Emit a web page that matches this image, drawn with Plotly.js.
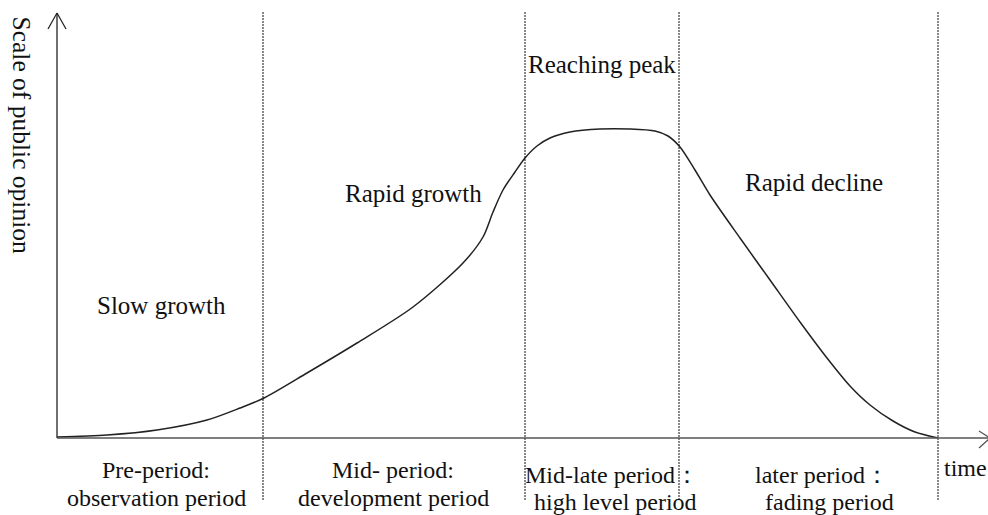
<!DOCTYPE html>
<html>
<head>
<meta charset="utf-8">
<script src="https://cdn.plot.ly/plotly-3.0.1.min.js"></script>
<style>html,body{margin:0;padding:0;background:#fff;}#chart{width:988px;height:515px;}</style>
</head>
<body>
<div id="chart"></div>
<script>
// Curve of public-opinion scale over time (arbitrary units)
const timeVals  = [0, 50, 100, 150, 183, 207, 250, 300, 356, 406, 426, 436, 446, 458, 468, 480, 493, 513, 543, 573, 598, 611, 623, 638, 653, 683, 713, 743, 770, 793, 813, 836, 858, 881];
const scaleVals = [1, 3, 8, 18, 30, 40, 65, 95, 131, 175, 201, 226, 248, 266, 280, 292, 300, 306, 309, 309, 307, 302, 291, 268, 243, 200, 158, 116, 80, 52, 33, 17, 6, 0];
// Stage boundaries (time)
const boundaries = [206, 468, 622, 881];
// Stage labels
const stageNames = ["Slow growth", "Rapid growth", "Reaching peak", "Rapid decline"];
const periodLabels = [
  ["Pre-period:", "observation period"],
  ["Mid- period:", "development period"],
  ["Mid-late period\uFF1A", "high level period"],
  ["later period\uFF1A", "fading period"]
];
const xTitle = "time";
const yTitle = "Scale of public opinion";

const L = 57, R = 985, T = 14, B = 438;
const W = R - L, H = B - T;
const px = x => (x - L) / W;
const py = y => (B - y) / H;

const font = {family: "Liberation Serif, serif", color: "#111"};
const ann = (text, x, y, size, extra) => Object.assign({
  text: text, xref: "paper", yref: "paper", x: px(x), y: py(y),
  xanchor: "center", yanchor: "middle", showarrow: false,
  font: Object.assign({}, font, {size: size})
}, extra || {});

const annotations = [
  ann(stageNames[0], 161, 305, 25),
  ann(stageNames[1], 413, 193, 25),
  ann(stageNames[2], 602, 65, 25),
  ann(stageNames[3], 814, 182, 25),
  ann(periodLabels[0][0], 156, 470, 24),
  ann(periodLabels[0][1], 156, 498, 24),
  ann(periodLabels[1][0], 393, 470, 24),
  ann(periodLabels[1][1], 393, 498, 24),
  ann(periodLabels[2][0], 612, 475, 24),
  ann(periodLabels[2][1], 615, 502, 24),
  ann(periodLabels[3][0], 822, 475, 24),
  ann(periodLabels[3][1], 829, 502, 24),
  ann(xTitle, 942, 468, 24, {xanchor: "left"}),
  ann(yTitle, 21, 14, 25.5, {textangle: 90, yanchor: "top"})
];

const shapes = boundaries.map(b => ({
  type: "line", xref: "x", yref: "paper", x0: b, x1: b,
  y0: py(12), y1: py(500),
  line: {color: "#111", width: 1, dash: "2px,1px"}
}));
// axis lines and arrowheads
const lineStyle = {color: "#222", width: 1.3};
shapes.push(
  {type: "line", xref: "paper", yref: "paper", x0: px(48), y0: py(29), x1: px(57), y1: py(13), line: lineStyle},
  {type: "line", xref: "paper", yref: "paper", x0: px(66), y0: py(29), x1: px(57), y1: py(13), line: lineStyle},
  {type: "line", xref: "paper", yref: "paper", x0: px(57), y0: py(13), x1: px(57), y1: py(438), line: lineStyle},
  {type: "line", xref: "paper", yref: "paper", x0: px(57), y0: py(438), x1: px(990), y1: py(438), line: {color: "#555", width: 1.5}},
  {type: "line", xref: "paper", yref: "paper", x0: px(979), y0: py(431), x1: px(990), y1: py(438), line: {color: "#555", width: 1.3}},
  {type: "line", xref: "paper", yref: "paper", x0: px(979), y0: py(448), x1: px(990), y1: py(438), line: {color: "#555", width: 1.3}}
);

const trace = {
  x: timeVals, y: scaleVals, type: "scatter", mode: "lines",
  line: {color: "#222", width: 1.5, shape: "spline", smoothing: 0.8},
  cliponaxis: false, hoverinfo: "skip"
};

const layout = {
  width: 988, height: 515,
  margin: {l: L, r: 988 - R, t: T, b: 515 - B, pad: 0},
  paper_bgcolor: "#fff", plot_bgcolor: "#fff",
  showlegend: false,
  xaxis: {range: [0, W], visible: false, fixedrange: true},
  yaxis: {range: [0, H], visible: false, fixedrange: true},
  shapes: shapes, annotations: annotations
};

Plotly.newPlot("chart", [trace], layout, {displayModeBar: false, staticPlot: true});
</script>
</body>
</html>
